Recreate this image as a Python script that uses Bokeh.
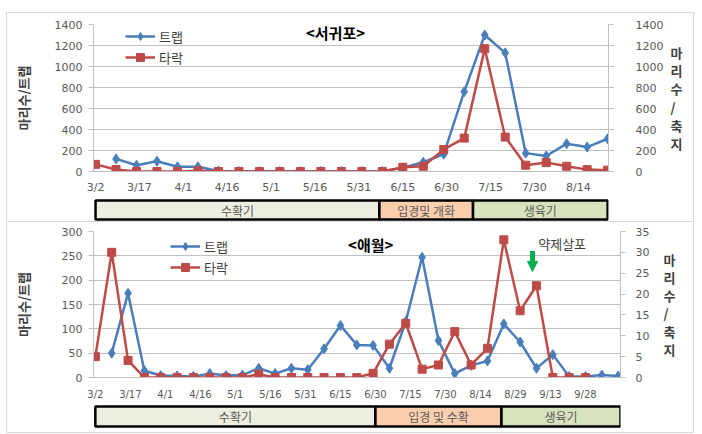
from datetime import date
from bokeh.plotting import figure
from bokeh.models import (Range1d, LinearAxis, FixedTicker, SingleIntervalTicker, Legend,
                          LegendItem, Label, Arrow, NormalHead)
from bokeh.layouts import column
from bokeh.core.properties import value
from bokeh.embed import file_html
from bokeh.resources import INLINE

# ---------------- data ----------------
# <서귀포>
sg_dates = ["3/2", "3/9", "3/16", "3/23", "3/30", "4/6", "4/13", "4/20", "4/27", "5/4", "5/11",
            "5/18", "5/25", "6/1", "6/8", "6/15", "6/22", "6/29", "7/6", "7/13", "7/20", "7/27",
            "8/3", "8/10", "8/17", "8/24"]
sg_tarak = [68, 19, 0, 0, 0, 6, 0, 0, 0, 0, 0, 0, 0, 0, 0, 40, 50, 210, 318, 1170, 328, 60,
            85, 50, 18, 13]
sg_trap_dates = sg_dates[1:]
sg_trap = [120, 60, 98, 45, 45, 5, 0, 0, 0, 0, 0, 0, 0, 0, 35, 88, 165, 760, 1300, 1130, 175,
           148, 265, 233, 312]
sg_tick_labels = ["3/2", "3/17", "4/1", "4/16", "5/1", "5/16", "5/31", "6/15", "6/30", "7/15",
                  "7/30", "8/14"]
sg_phase_names = ["수확기", "입경및 개화", "생육기"]
sg_phase_start = ["3/2", "6/7", "7/9"]
sg_phase_end = ["6/7", "7/9", "8/24"]

# <애월>
aw_dates = ["3/2", "3/9", "3/16", "3/23", "3/30", "4/6", "4/13", "4/20", "4/27", "5/4", "5/11",
            "5/18", "5/25", "6/1", "6/8", "6/15", "6/22", "6/29", "7/6", "7/13", "7/20", "7/27",
            "8/3", "8/10", "8/17", "8/24", "8/31", "9/7", "9/14", "9/21", "9/28", "10/5", "10/12"]
aw_tarak = [5, 30, 4.1, 0, 0, 0, 0, 0, 0, 0, 0.8, 0, 0, 0, 0, 0, 0, 1, 8, 13, 2, 3, 11, 3, 7,
            33, 16, 22, 0, 0, 0]
aw_tarak_dates = aw_dates[:31]
aw_trap_dates = aw_dates[1:]
aw_trap = [50, 173, 14, 4, 3, 2, 8, 4, 5, 19, 8, 19, 16, 59, 107, 67, 66, 19, 115, 247, 76, 8,
           25, 34, 110, 73, 19, 47, 2, 2, 5, 3]
aw_tick_labels = ["3/2", "3/17", "4/1", "4/16", "5/1", "5/16", "5/31", "6/15", "6/30", "7/15",
                  "7/30", "8/14", "8/29", "9/13", "9/28"]
aw_phase_names = ["수확기", "입경 및 수확", "생육기"]
aw_phase_start = ["3/2", "6/30", "8/23"]
aw_phase_end = ["6/30", "8/23", "10/13"]

phase_colors = ["#ECEFDF", "#FBCFAE", "#D7E3BC"]


def day(md):
    m, d = map(int, md.split("/"))
    return (date(2015, m, d) - date(2015, 3, 2)).days


BLUE = "#4A7EBB"
RED = "#BE4B48"
GRID = "#C0C0C0"
TICK = "#595959"
KR = "Noto Sans CJK KR"
NUM = "DejaVu Sans"
W = 686


def style_axis(ax, size="11px"):
    ax.axis_line_color = GRID
    ax.major_tick_line_color = GRID
    ax.minor_tick_line_color = None
    ax.major_tick_in = 0
    ax.major_tick_out = 5
    ax.major_label_text_font = NUM
    ax.major_label_text_font_size = size
    ax.major_label_text_color = TICK


def main_fig(xr, ymax, ystep, rmax, rstep, tick_labels, h_top, h_frame, h_bot, b_right,
             tick_size):
    p = figure(width=W, height=h_top + h_frame + h_bot, x_range=xr,
               y_range=Range1d(0, ymax), output_backend="svg", toolbar_location=None,
               min_border_left=86, min_border_right=b_right, min_border_top=h_top,
               min_border_bottom=h_bot)
    p.outline_line_color = None
    p.xgrid.visible = False
    p.ygrid.ticker = SingleIntervalTicker(interval=ystep, num_minor_ticks=0)
    p.ygrid.grid_line_color = GRID
    p.extra_y_ranges = {"right": Range1d(0, rmax)}

    xa = p.xaxis[0]
    style_axis(xa, tick_size)
    xa.ticker = FixedTicker(ticks=[day(t) for t in tick_labels])
    xa.major_label_overrides = {day(t): t for t in tick_labels}
    xa.major_tick_out = 0

    ya = p.yaxis[0]
    style_axis(ya)
    ya.ticker = SingleIntervalTicker(interval=ystep, num_minor_ticks=0)
    ya.axis_label = "마리수/트랩"
    ya.axis_label_text_font = KR
    ya.axis_label_text_font_size = "13px"
    ya.axis_label_text_font_style = "bold"
    ya.axis_label_text_color = "#404040"

    ra = LinearAxis(y_range_name="right",
                    ticker=SingleIntervalTicker(interval=rstep, num_minor_ticks=0))
    style_axis(ra)
    ra.axis_label = "마\n리\n수\n/\n축\n지"
    ra.axis_label_orientation = "horizontal"
    ra.axis_label_text_font = KR
    ra.axis_label_text_font_size = "13px"
    ra.axis_label_text_font_style = "bold"
    ra.axis_label_text_color = "#404040"
    ra.axis_label_text_line_height = 0.95
    p.add_layout(ra, "right")
    return p, xa, ya, ra


def add_series(p, trap_dates, trap, tarak_dates, tarak, legend_loc):
    tx = [day(d) for d in trap_dates]
    rx = [day(d) for d in tarak_dates]
    bl = p.line(tx, trap, line_color=BLUE, line_width=2.5)
    bs = p.scatter(tx, trap, marker="diamond", size=10, fill_color=BLUE, line_color=BLUE)
    rl = p.line(rx, tarak, line_color=RED, line_width=2.5, y_range_name="right")
    rs = p.scatter(rx, tarak, marker="square", size=8, fill_color=RED, line_color=RED,
                   y_range_name="right")
    lg = Legend(items=[LegendItem(label="트랩", renderers=[bl, bs]),
                       LegendItem(label="타락", renderers=[rl, rs])],
                location=legend_loc, orientation="vertical")
    lg.border_line_color = None
    lg.background_fill_alpha = 0
    lg.label_text_font = KR
    lg.label_text_font_size = "13px"
    lg.label_text_color = "#404040"
    lg.glyph_width = 30
    lg.glyph_height = 20
    lg.label_height = 20
    lg.spacing = 1
    lg.padding = 0
    lg.margin = 0
    lg.label_standoff = 4
    p.add_layout(lg)


def band_fig(xr, names, starts, ends, height, ystart, yend, b_right):
    b = figure(width=W, height=height, x_range=xr, y_range=Range1d(ystart, yend),
               output_backend="svg", toolbar_location=None, x_axis_location=None,
               y_axis_location=None, min_border_left=86, min_border_right=b_right,
               min_border_top=0, min_border_bottom=0)
    b.outline_line_color = None
    b.grid.visible = False
    s = [day(d) for d in starts]
    e = [day(d) for d in ends]
    b.quad(left=s, right=e, bottom=0, top=1, fill_color=phase_colors, line_color="black",
           line_width=2.5)
    b.text(x=[(a + c) / 2 for a, c in zip(s, e)], y=[0.5] * len(names), text=names,
           text_align="center", text_baseline="middle", text_font=value(KR),
           text_font_size="12px", text_color="#595959")
    return b


# ---------------- panel 1: 서귀포 ----------------
xr1 = Range1d(-0.7, 175.3)
p1, xa1, ya1, ra1 = main_fig(xr1, 1400, 200, 1400, 200, sg_tick_labels,
                             11, 148, 24, 85, "11px")
xa1.major_label_standoff = 9
ya1.major_label_standoff = 6
ya1.axis_label_standoff = 19
ra1.major_label_standoff = 22
ra1.axis_label_standoff = 4
add_series(p1, sg_trap_dates, sg_trap, sg_dates, sg_tarak, (32, 104))
p1.add_layout(Label(x=82, y=1324, text="<서귀포>", text_align="center",
                    text_baseline="middle", text_font=KR, text_font_size="15px",
                    text_font_style="bold", text_color="black"))
b1 = band_fig(xr1, sg_phase_names, sg_phase_start, sg_phase_end, 25, -2 / 19, 1 + 4 / 19, 85)

# ---------------- panel 2: 애월 ----------------
xr2 = Range1d(-0.8, 225)
p2, xa2, ya2, ra2 = main_fig(xr2, 300, 50, 35, 5, aw_tick_labels,
                             9, 147, 24, 73, "10px")
xa2.major_label_standoff = 11
ya2.major_label_standoff = 6
ya2.axis_label_standoff = 26
ra2.major_label_standoff = 10
ra2.axis_label_standoff = 11
add_series(p2, aw_trap_dates, aw_trap, aw_tarak_dates, aw_tarak, (77, 100))
p2.add_layout(Label(x=118, y=273, text="<애월>", text_align="center", text_baseline="middle",
                    text_font=KR, text_font_size="15px", text_font_style="bold",
                    text_color="black"))
p2.add_layout(Label(x=200, y=275, text="약제살포", text_align="center", text_baseline="middle",
                    text_font=KR, text_font_size="13px", text_color="#404040"))
GREEN = "#00B050"
p2.add_layout(Arrow(end=NormalHead(size=10, fill_color=GREEN, line_color=GREEN),
                    x_start=187.3, y_start=260, x_end=187.3, y_end=218,
                    line_color=GREEN, line_width=5))
b2 = band_fig(xr2, aw_phase_names, aw_phase_start, aw_phase_end, 30, -0.3, 1.2, 73)

panel1 = column(p1, b1, spacing=0, styles={"border": "1px solid #d9d9d9"})
panel2 = column(p2, b2, spacing=0, styles={"border": "1px solid #d9d9d9", "border-top": "none"})
root = column(panel1, panel2, spacing=0, margin=(12, 0, 0, 6))

open("out.html", "w").write(file_html(root, INLINE))
